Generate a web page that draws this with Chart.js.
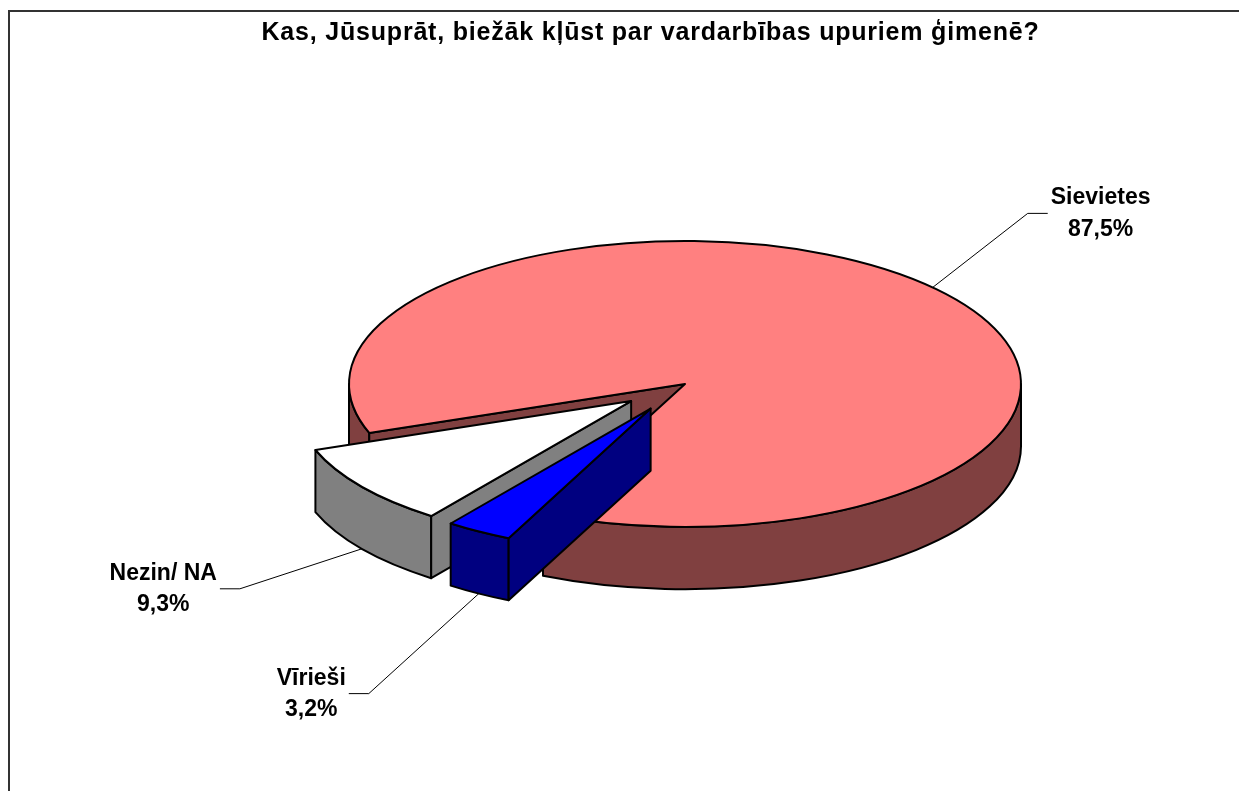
<!DOCTYPE html>
<html>
<head>
<meta charset="utf-8">
<script src="https://cdn.jsdelivr.net/npm/chart.js@4.4.1/dist/chart.umd.min.js"></script>
<style>
  html, body { margin: 0; padding: 0; background: #fff; }
  canvas { display: block; }
</style>
</head>
<body>
<canvas id="chart" width="1239" height="791"></canvas>
<script>
const title = "Kas, Jūsuprāt, biežāk kļūst par vardarbības upuriem ģimenē?";
const categories = ["Sievietes", "Vīrieši", "Nezin/ NA"];
const shares = [87.5, 3.2, 9.3];
const topColors = ["#ff8080", "#0000ff", "#ffffff"];
const sideColors = ["#804040", "#000080", "#808080"];

const FONT = '"Liberation Sans", Arial, sans-serif';

function pct(v) {
  return v.toFixed(1).replace(".", ",") + "%";
}

// draws the pie as a tilted, extruded disc using the arcs chart.js laid out
const pie3d = {
  id: "pie3d",
  beforeDraw(chart) {
    const ctx = chart.ctx;
    ctx.save();
    ctx.fillStyle = "#fff";
    ctx.fillRect(0, 0, chart.width, chart.height);
    ctx.strokeStyle = "#333";
    ctx.lineWidth = 2;
    ctx.strokeRect(9, 11, chart.width + 20, chart.height + 20);

    ctx.fillStyle = "#000";
    ctx.font = "bold 25px " + FONT;
    ctx.textAlign = "center";
    ctx.textBaseline = "alphabetic";
    ctx.letterSpacing = "0.8px";
    ctx.fillText(title, chart.width / 2 + 31, 39.5);
    ctx.restore();
  },
  beforeDatasetsDraw(chart, args, opts) {
    const ctx = chart.ctx;
    const arcs = chart.getDatasetMeta(0).data;
    const k = opts.tilt;

    const slices = arcs.map((arc, i) => {
      const mid = (arc.startAngle + arc.endAngle) / 2;
      const rx = arc.outerRadius;
      const ex = rx * opts.explode[i];
      return {
        i, mid, rx,
        ry: rx * k,
        s: arc.startAngle,
        e: arc.endAngle,
        cx: arc.x + ex * Math.cos(mid),
        cy: arc.y + ex * Math.sin(mid) * k,
        d: rx * opts.depth,
      };
    });

    const rim = (sl, a, dz) => [sl.cx + sl.rx * Math.cos(a), sl.cy + sl.ry * Math.sin(a) + dz];

    ctx.save();
    ctx.lineWidth = 2;
    ctx.strokeStyle = "#000";
    ctx.lineJoin = "round";

    const order = slices.slice().sort((a, b) => Math.sin(a.mid) - Math.sin(b.mid));
    for (const sl of order) {
      // outer wall, front facing parts only
      const n0 = Math.floor(sl.s / (2 * Math.PI)) - 1;
      const n1 = Math.ceil(sl.e / (2 * Math.PI)) + 1;
      for (let n = n0; n <= n1; n++) {
        const a = Math.max(sl.s, 2 * Math.PI * n);
        const b = Math.min(sl.e, 2 * Math.PI * n + Math.PI);
        if (b - a <= 0.001) continue;
        ctx.beginPath();
        ctx.ellipse(sl.cx, sl.cy, sl.rx, sl.ry, 0, a, b, false);
        const pb = rim(sl, b, sl.d);
        ctx.lineTo(pb[0], pb[1]);
        ctx.ellipse(sl.cx, sl.cy + sl.d, sl.rx, sl.ry, 0, b, a, true);
        ctx.closePath();
        ctx.fillStyle = sideColors[sl.i];
        ctx.fill();
        ctx.stroke();
      }

      // cut faces
      const faces = [];
      if (Math.cos(sl.s) < 0) faces.push(sl.s);
      if (Math.cos(sl.e) > 0) faces.push(sl.e);
      for (const a of faces) {
        const p = rim(sl, a, 0);
        ctx.beginPath();
        ctx.moveTo(sl.cx, sl.cy);
        ctx.lineTo(p[0], p[1]);
        ctx.lineTo(p[0], p[1] + sl.d);
        ctx.lineTo(sl.cx, sl.cy + sl.d);
        ctx.closePath();
        ctx.fillStyle = sideColors[sl.i];
        ctx.fill();
        ctx.stroke();
      }

      // top
      ctx.beginPath();
      ctx.moveTo(sl.cx, sl.cy);
      ctx.ellipse(sl.cx, sl.cy, sl.rx, sl.ry, 0, sl.s, sl.e, false);
      ctx.closePath();
      ctx.fillStyle = topColors[sl.i];
      ctx.fill();
      ctx.stroke();
    }

    // labels with leader lines
    ctx.font = "bold 23px " + FONT;
    ctx.textAlign = "center";
    ctx.textBaseline = "alphabetic";
    for (const sl of slices) {
      const front = Math.sin(sl.mid) > 0;
      const p = rim(sl, sl.mid, front ? sl.d : 0);
      const [dx, dy, hx] = opts.leaders[sl.i];
      const ex = p[0] + dx, ey = p[1] + dy;
      ctx.beginPath();
      ctx.lineWidth = 1;
      ctx.moveTo(p[0], p[1]);
      ctx.lineTo(ex, ey);
      ctx.lineTo(ex + hx, ey);
      ctx.stroke();

      const lines = [categories[sl.i], pct(shares[sl.i])];
      const w = Math.max(...lines.map((t) => ctx.measureText(t).width));
      const tx = ex + hx + Math.sign(hx) * (3 + w / 2);
      ctx.fillStyle = "#000";
      ctx.fillText(lines[0], tx, ey - 9);
      ctx.fillText(lines[1], tx, ey + 22.5);
    }
    ctx.restore();
    return false;
  },
};

new Chart(document.getElementById("chart"), {
  type: "pie",
  data: {
    labels: categories,
    datasets: [
      {
        data: shares,
        backgroundColor: topColors,
        borderWidth: 0,
        hoverBorderWidth: 0,
        hoverOffset: 0,
      },
    ],
  },
  options: {
    responsive: false,
    animation: false,
    events: [],
    rotation: 250,
    layout: {
      padding: { left: 131, right: 0, top: 48, bottom: 71 },
    },
    plugins: {
      legend: { display: false },
      title: { display: false },
      tooltip: { enabled: false },
      pie3d: {
        tilt: 0.4256,
        depth: 0.185,
        explode: [0, 0.2, 0.2],
        leaders: [
          [95, -74, 20],
          [-110, 100, -20],
          [-122, 40, -20],
        ],
      },
    },
  },
  plugins: [pie3d],
});
</script>
</body>
</html>
